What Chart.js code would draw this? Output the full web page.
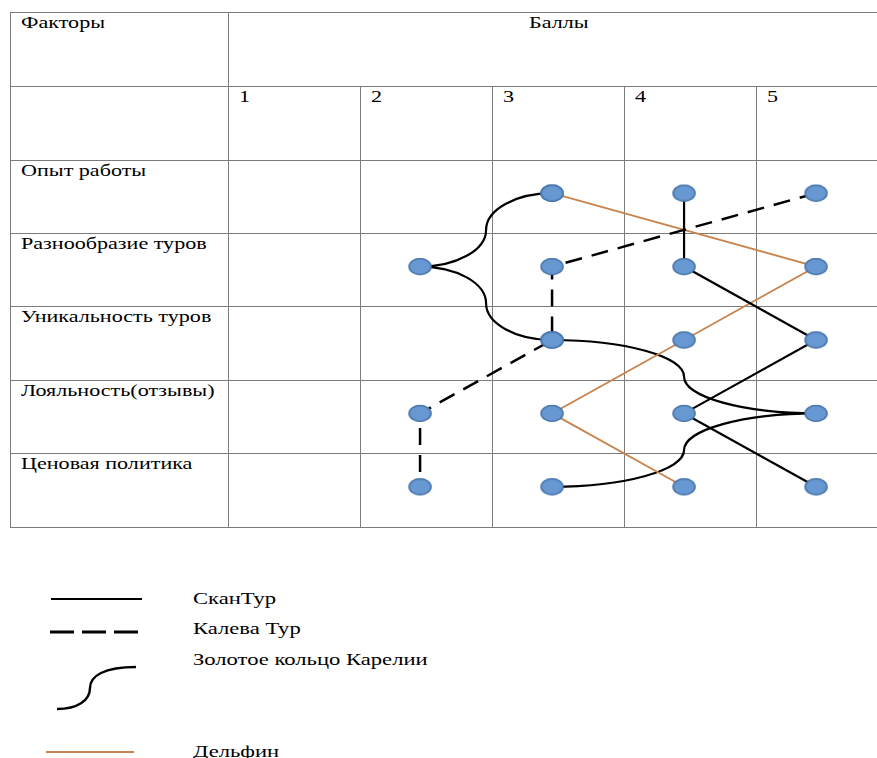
<!DOCTYPE html>
<html lang="ru">
<head>
<meta charset="UTF-8">
<meta name="viewport" content="width=device-width, initial-scale=1">
<title>Факторы и баллы</title>
<style>
  html, body { margin: 0; padding: 0; background: #fff; overflow: hidden; }
  body { width: 877px; height: 758px; position: relative; font-family: "Liberation Serif", "Times New Roman", serif; color: #000; }
  #wrap { position: absolute; left: 10px; top: 12px; width: 879px; height: 516px; }
  table { border-collapse: collapse; table-layout: fixed; width: 879px; }
  td { border: 1px solid #7c7c7c; vertical-align: top; padding: 0; font-size: 17px; line-height: 19px; }
  .t { display: inline-block; white-space: nowrap; transform: scaleX(1.3); transform-origin: left top; margin: 0 0 0 10px; }
  .c { text-align: center; }
  .c .t { transform-origin: center top; margin-left: 0; }
  #chartBox { position: absolute; left: 218px; top: 148px; width: 660px; height: 367px; }
  #legend { position: absolute; left: 0; top: 580px; width: 877px; height: 178px; }
  #legend svg { position: absolute; left: 0; top: 0; }
  #legend .t { position: absolute; left: 193px; margin: 0; font-size: 17px; line-height: 20px; transform: scaleX(1.33); }
</style>
</head>
<body>
  <div id="wrap">
    <table id="grid">
      <colgroup>
        <col style="width:218px"><col style="width:132px"><col style="width:132px">
        <col style="width:132px"><col style="width:132px"><col style="width:133px">
      </colgroup>
      <tbody></tbody>
    </table>
    <div id="chartBox"><canvas id="scoreChart"></canvas></div>
  </div>

  <div id="legend">
    <svg width="160" height="178">
      <line x1="51" y1="19" x2="142" y2="19" stroke="#000" stroke-width="2"/>
      <line x1="50" y1="52" x2="138" y2="52" stroke="#000" stroke-width="3" stroke-dasharray="24 8"/>
      <path d="M57 129 C 78 129 90 120 90 108 C 90 96 104 87 136 87" fill="none" stroke="#000" stroke-width="2.4"/>
      <line x1="46" y1="172" x2="134" y2="172" stroke="#c8844e" stroke-width="2"/>
    </svg>
    <span class="t" style="top:9px">СканТур</span>
    <span class="t" style="top:39px">Калева Тур</span>
    <span class="t" style="top:70px">Золотое кольцо Карелии</span>
    <span class="t" style="top:162px">Дельфин</span>
  </div>

  <script src="https://cdn.jsdelivr.net/npm/chart.js"></script>
  <script>
    const factors = ['Опыт работы', 'Разнообразие туров', 'Уникальность туров', 'Лояльность(отзывы)', 'Ценовая политика'];
    const scoreLabels = ['1', '2', '3', '4', '5'];
    const headerLeft = 'Факторы';
    const headerRight = 'Баллы';

    // балл каждой компании по каждому фактору
    const scanTur = [4, 4, 5, 4, 5];
    const kalevaTur = [5, 3, 3, 2, 2];
    const zolotoeKoltso = [3, 2, 3, 5, 3];
    const delfin = [3, 5, 4, 3, 4];

    // таблица
    const rowHeights = [74, 74, 73, 73, 74, 73, 74];
    const tbody = document.querySelector('#grid tbody');
    function addRow(h, cells) {
      const tr = document.createElement('tr');
      tr.style.height = h + 'px';
      cells.forEach(c => {
        const td = document.createElement('td');
        if (c.span) td.colSpan = c.span;
        if (c.center) td.className = 'c';
        if (c.text) {
          const s = document.createElement('span');
          s.className = 't';
          s.textContent = c.text;
          td.appendChild(s);
        }
        tr.appendChild(td);
      });
      tbody.appendChild(tr);
    }
    addRow(rowHeights[0], [{ text: headerLeft }, { text: headerRight, span: 5, center: true }]);
    addRow(rowHeights[1], [{}].concat(scoreLabels.map(s => ({ text: s }))));
    factors.forEach((f, i) => addRow(rowHeights[i + 2], [{ text: f }].concat(scoreLabels.map(() => ({})))));

    function makeMarker() {
      const c = document.createElement('canvas');
      c.width = 25; c.height = 19;
      const g = c.getContext('2d');
      g.beginPath();
      g.ellipse(12.5, 9.5, 10.8, 7.8, 0, 0, Math.PI * 2);
      g.fillStyle = '#6898d2';
      g.fill();
      g.lineWidth = 1.2;
      g.strokeStyle = '#4874a8';
      g.stroke();
      return c;
    }
    const marker = makeMarker();

    function toPoints(arr) {
      return factors.map((f, i) => ({ x: arr[i], y: i }));
    }

    // фигурные линии для "Золотое кольцо Карелии"
    const bracePlugin = {
      id: 'braceLines',
      beforeDatasetsDraw(chart) {
        const ctx = chart.ctx;
        chart.data.datasets.forEach((ds, i) => {
          if (!ds.braceLine) return;
          const pts = chart.getDatasetMeta(i).data;
          ctx.save();
          ctx.strokeStyle = ds.borderColor;
          ctx.lineWidth = ds.borderWidth;
          ctx.beginPath();
          for (let k = 0; k < pts.length - 1; k++) {
            const a = pts[k], b = pts[k + 1];
            const mx = (a.x + b.x) / 2, my = (a.y + b.y) / 2, q = 0.55;
            ctx.moveTo(a.x, a.y);
            ctx.bezierCurveTo(a.x + (mx - a.x) * q, a.y, mx, my - (my - a.y) * q, mx, my);
            ctx.bezierCurveTo(mx, my + (b.y - my) * q, b.x - (b.x - mx) * q, b.y, b.x, b.y);
          }
          ctx.stroke();
          ctx.restore();
        });
      },
      afterDatasetsDraw(chart) {
        // маркеры поверх всех линий
        chart.data.datasets.forEach((ds, i) => {
          chart.getDatasetMeta(i).data.forEach(p => p.draw(chart.ctx, chart.chartArea));
        });
      }
    };

    const common = { pointStyle: marker, pointRadius: 10, pointHoverRadius: 10, tension: 0, showLine: true };

    new Chart(document.getElementById('scoreChart'), {
      type: 'scatter',
      data: {
        datasets: [
          Object.assign({ label: 'СканТур', data: toPoints(scanTur), borderColor: '#000', borderWidth: 2.2 }, common),
          Object.assign({ label: 'Калева Тур', data: toPoints(kalevaTur), borderColor: '#000', borderWidth: 2.5, borderDash: [17, 10] }, common),
          Object.assign({ label: 'Золотое кольцо Карелии', data: toPoints(zolotoeKoltso), borderColor: '#000', borderWidth: 2.2 }, common, { showLine: false, braceLine: true }),
          Object.assign({ label: 'Дельфин', data: toPoints(delfin), borderColor: '#c8844e', borderWidth: 1.8 }, common)
        ]
      },
      options: {
        responsive: true,
        maintainAspectRatio: false,
        animation: false,
        layout: { padding: 0, autoPadding: false },
        scales: {
          x: { type: 'linear', min: 0.545, max: 5.545, display: false },
          y: { type: 'linear', min: -0.452, max: 4.548, reverse: true, display: false }
        },
        plugins: {
          legend: { display: false },
          tooltip: { enabled: false }
        }
      },
      plugins: [bracePlugin]
    });
  </script>
</body>
</html>
